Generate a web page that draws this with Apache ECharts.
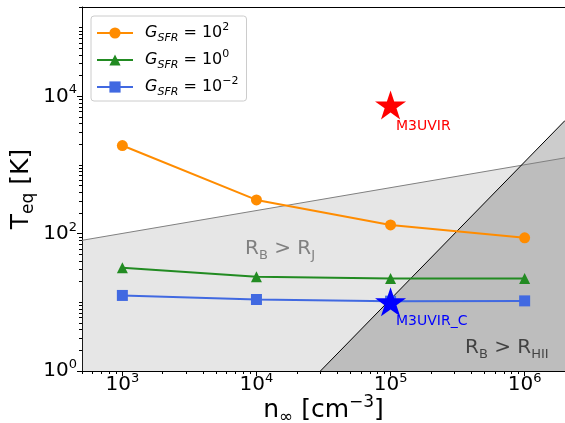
<!DOCTYPE html>
<html>
<head>
<meta charset="utf-8">
<script src="https://cdn.jsdelivr.net/npm/echarts@6/dist/echarts.min.js"></script>
<style>
  html, body { margin: 0; padding: 0; background: #fff; }
  #main { width: 565px; height: 423px; }
</style>
</head>
<body>
<div id="main"></div>
<script>
// density values and equilibrium temperatures for the three G_SFR runs
var nValues = [1e3, 1e4, 1e5, 1e6];
var tHigh = [1920, 310, 134, 87];     // G_SFR = 10^2
var tMid = [31.8, 23.5, 22.3, 22.3];  // G_SFR = 10^0
var tLow = [12.6, 11.0, 10.4, 10.5];  // G_SFR = 10^-2

// boundaries of the shaded regions
var rjX = [500, 2e6];
var rjY = [80, 1270];
var hiiX = [3e4, 2e6];
var hiiY = [1, 4444];

// the two simulation stars
var starN = [1e5];
var m3uvirT = [7500];
var m3uvircT = [10.2];

// axis ranges and labelled decades
var xMin = 500, xMax = 2e6;
var yMin = 1, yMax = 2e5;
var xMajorExp = [3, 4, 5, 6];
var yMajorExp = [0, 2, 4];

var seriesNames = ['G_SFR = 10^2', 'G_SFR = 10^0', 'G_SFR = 10^-2'];
var legendExp = ['2', '0', '\u22122'];

function pairs(xs, ys) {
    var out = [];
    for (var i = 0; i < xs.length; i++) {
        out.push([xs[i], ys[i]]);
    }
    return out;
}

function minorTicks(lo, hi) {
    var out = [];
    for (var k = Math.floor(lo) - 1; k <= Math.ceil(hi); k++) {
        for (var m = 1; m <= 9; m++) {
            var v = k + Math.log10(m);
            if (v >= lo - 1e-9 && v <= hi + 1e-9) out.push(v);
        }
    }
    return out;
}

var FONT = 'DejaVu Sans';
var STAR = 'path://M0,-100L22.45,-30.9L95.11,-30.9L36.33,11.8L58.78,80.9L0,38.2L-58.78,80.9L-36.33,11.8L-95.11,-30.9L-22.45,-30.9Z';

var tickRich = {
    b: { fontFamily: FONT, fontSize: 20, lineHeight: 26, color: '#000' },
    s: { fontFamily: FONT, fontSize: 13, lineHeight: 15, verticalAlign: 'top', color: '#000' }
};
function powLabel(v) {
    var e = Math.round(v);
    return '{b|10}{s|' + (e < 0 ? '\u2212' + (-e) : e) + '}';
}

var lxMin = Math.log10(xMin), lxMax = Math.log10(xMax);
var lyMin = Math.log10(yMin), lyMax = Math.log10(yMax);

var dom = document.getElementById('main');
var chart = echarts.init(dom, null, { renderer: 'canvas' });

var option = {
    animation: false,
    backgroundColor: '#fff',
    grid: { left: 82, right: 0, top: 7, bottom: 52, containLabel: false, outerBoundsMode: 'none' },
    legend: {
        data: seriesNames,
        orient: 'vertical',
        left: 91,
        top: 16,
        padding: [6, 8, 3, 5],
        itemGap: 5,
        itemWidth: 36,
        itemHeight: 14,
        backgroundColor: 'rgba(255,255,255,0.8)',
        borderColor: '#cccccc',
        borderWidth: 1,
        borderRadius: 3,
        formatter: function(name) {
            var i = seriesNames.indexOf(name);
            return '{sp|}{g|G}{sb|SFR}{n| = 10}{su|' + legendExp[i] + '}';
        },
        textStyle: {
            rich: {
                sp: { width: 7, fontSize: 10, lineHeight: 10 },
                g: { fontFamily: FONT, fontStyle: 'italic', fontSize: 16, lineHeight: 22, color: '#000' },
                sb: { fontFamily: FONT, fontStyle: 'italic', fontSize: 11, lineHeight: 12, verticalAlign: 'bottom', color: '#000' },
                n: { fontFamily: FONT, fontSize: 16, lineHeight: 22, color: '#000' },
                su: { fontFamily: FONT, fontSize: 11, lineHeight: 15, verticalAlign: 'top', color: '#000' }
            }
        }
    },
    xAxis: [{
            type: 'log',
            logBase: 10,
            min: xMin,
            max: xMax,
            position: 'bottom',
            axisLine: { show: true, lineStyle: { color: '#000', width: 1 } },
            axisTick: { show: false },
            axisLabel: { show: false },
            splitLine: { show: false },
            name: '{n|n}{sb|\u221e}{n| [cm}{su|\u22123}{n|]}',
            nameLocation: 'middle',
            nameGap: 23,
            nameTextStyle: {
                rich: {
                    n: { fontFamily: FONT, fontSize: 25, lineHeight: 32, color: '#000' },
                    sb: { fontFamily: FONT, fontSize: 17, lineHeight: 15, verticalAlign: 'bottom', color: '#000' },
                    su: { fontFamily: FONT, fontSize: 17, lineHeight: 19, verticalAlign: 'top', color: '#000' }
                }
            }
        },
        { //标签和主刻度
            type: 'value',
            min: lxMin,
            max: lxMax,
            position: 'bottom',
            axisLine: { show: false },
            axisTick: { show: true, inside: false, length: 5, customValues: xMajorExp, lineStyle: { color: '#000', width: 1 } },
            axisLabel: { show: true, margin: 1, customValues: xMajorExp, formatter: powLabel, rich: tickRich },
            splitLine: { show: false }
        },
        { //次刻度
            type: 'value',
            min: lxMin,
            max: lxMax,
            position: 'bottom',
            axisLine: { show: false },
            axisTick: { show: true, inside: false, length: 3, customValues: minorTicks(lxMin, lxMax), lineStyle: { color: '#000', width: 1 } },
            axisLabel: { show: false },
            splitLine: { show: false }
        },
        {
            type: 'value',
            min: lxMin,
            max: lxMax,
            position: 'top',
            axisLine: { show: true, lineStyle: { color: '#000', width: 1 } },
            axisTick: { show: false },
            axisLabel: { show: false },
            splitLine: { show: false }
        }
    ],
    yAxis: [{
            type: 'log',
            logBase: 10,
            min: yMin,
            max: yMax,
            position: 'left',
            axisLine: { show: true, lineStyle: { color: '#000', width: 1 } },
            axisTick: { show: false },
            axisLabel: { show: false },
            splitLine: { show: false },
            name: '{n|T}{sb|eq}{n| [K]}',
            nameLocation: 'middle',
            nameGap: 45,
            nameTextStyle: {
                rich: {
                    n: { fontFamily: FONT, fontSize: 25, lineHeight: 32, color: '#000' },
                    sb: { fontFamily: FONT, fontSize: 17, lineHeight: 15, verticalAlign: 'bottom', color: '#000' }
                }
            }
        },
        {
            type: 'value',
            min: lyMin,
            max: lyMax,
            position: 'left',
            axisLine: { show: false },
            axisTick: { show: true, inside: false, length: 5, customValues: yMajorExp, lineStyle: { color: '#000', width: 1 } },
            axisLabel: { show: true, margin: 5, customValues: yMajorExp, formatter: powLabel, rich: tickRich },
            splitLine: { show: false }
        },
        {
            type: 'value',
            min: lyMin,
            max: lyMax,
            position: 'left',
            axisLine: { show: false },
            axisTick: { show: true, inside: false, length: 3, customValues: minorTicks(lyMin, lyMax), lineStyle: { color: '#000', width: 1 } },
            axisLabel: { show: false },
            splitLine: { show: false }
        }
    ],
    series: [{
            name: 'R_B > R_J',
            type: 'line',
            data: pairs(rjX, rjY),
            showSymbol: false,
            symbol: 'none',
            silent: true,
            lineStyle: { color: '#808080', width: 1 },
            areaStyle: { color: 'rgba(128,128,128,0.2)', opacity: 1, origin: 'start' },
            z: 1
        },
        {
            name: 'R_B > R_HII',
            type: 'line',
            data: pairs(hiiX, hiiY),
            showSymbol: false,
            symbol: 'none',
            silent: true,
            lineStyle: { color: '#000', width: 1 },
            areaStyle: { color: 'rgba(128,128,128,0.4)', opacity: 1, origin: 'start' },
            z: 1
        },
        {
            name: seriesNames[0],
            type: 'line',
            data: pairs(nValues, tHigh),
            color: '#ff8c00',
            symbol: 'circle',
            symbolSize: 11,
            lineStyle: { width: 2 },
            z: 3
        },
        {
            name: seriesNames[1],
            type: 'line',
            data: pairs(nValues, tMid),
            color: '#228b22',
            symbol: 'triangle',
            symbolSize: 11,
            lineStyle: { width: 2 },
            z: 3
        },
        {
            name: seriesNames[2],
            type: 'line',
            data: pairs(nValues, tLow),
            color: '#4169e1',
            symbol: 'rect',
            symbolSize: 11,
            lineStyle: { width: 2 },
            z: 3
        },
        {
            name: 'M3UVIR',
            type: 'scatter',
            data: pairs(starN, m3uvirT),
            symbol: STAR,
            symbolSize: [31, 29],
            itemStyle: { color: '#ff0000', opacity: 1 },
            label: {
                show: true, formatter: 'M3UVIR', position: 'right', distance: 0, offset: [-10, 21],
                color: '#ff0000', fontFamily: FONT, fontSize: 14
            },
            z: 4
        },
        {
            name: 'M3UVIR_C',
            type: 'scatter',
            data: pairs(starN, m3uvircT),
            symbol: STAR,
            symbolSize: [31, 29],
            itemStyle: { color: '#0000ff', opacity: 1 },
            label: {
                show: true, formatter: 'M3UVIR_C', position: 'right', distance: 0, offset: [-10, 20],
                color: '#0000ff', fontFamily: FONT, fontSize: 14
            },
            z: 4
        }
    ],
    graphic: [{
            type: 'text',
            x: 245,
            y: 249,
            silent: true,
            style: {
                text: '{r|R}{s|B}{r| > R}{s|J}',
                align: 'left',
                verticalAlign: 'middle',
                rich: {
                    r: { fontFamily: FONT, fontSize: 20, lineHeight: 26, fill: '#808080' },
                    s: { fontFamily: FONT, fontSize: 13, lineHeight: 14, verticalAlign: 'bottom', fill: '#808080' }
                }
            }
        },
        {
            type: 'text',
            x: 465,
            y: 348,
            silent: true,
            style: {
                text: '{r|R}{s|B}{r| > R}{s|HII}',
                align: 'left',
                verticalAlign: 'middle',
                rich: {
                    r: { fontFamily: FONT, fontSize: 20, lineHeight: 26, fill: '#000' },
                    s: { fontFamily: FONT, fontSize: 13, lineHeight: 14, verticalAlign: 'bottom', fill: '#000' }
                }
            }
        }
    ]
};

chart.setOption(option);
window.addEventListener('resize', function() {
    chart.resize();
});
</script>
</body>
</html>
